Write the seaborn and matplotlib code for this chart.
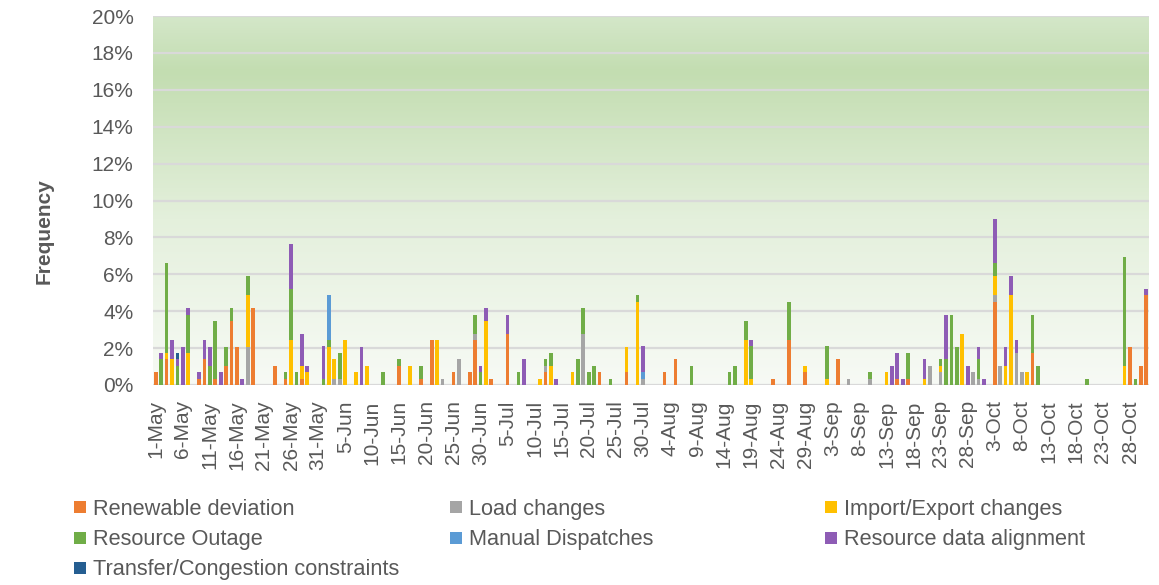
import matplotlib
matplotlib.use("Agg")
import matplotlib.pyplot as plt
import seaborn as sns
import pandas as pd
import numpy as np
from matplotlib.colors import LinearSegmentedColormap
from matplotlib.ticker import PercentFormatter
from matplotlib.lines import Line2D

# day offsets counted from 1-May (0 = 1-May ... 183 = 31-Oct), values in percent
renewable_days = [0, 2, 8, 9, 11, 13, 14, 15, 18, 22, 24, 27, 45, 49, 51, 55, 58, 59, 62, 65,
                  72, 82, 87, 94, 96, 114, 117, 120, 126, 137, 139, 155, 162, 180, 182, 183]
renewable_vals = [0.69, 1.39, 0.35, 1.39, 0.35, 1.04, 3.47, 2.08, 4.17, 1.04, 0.35, 0.35, 1.04, 0.35,
                  2.43, 0.69, 0.69, 2.43, 0.35, 2.78, 0.69, 0.69, 0.69, 0.69, 1.39, 0.35, 2.43, 0.69,
                  1.39, 0.35, 0.35, 4.51, 1.74, 2.08, 1.04, 4.86]

load_days = [17, 33, 34, 53, 56, 59, 72, 79, 90, 128, 132, 143, 145, 151, 152, 155, 156, 159, 160]
load_vals = [2.08, 0.35, 0.35, 0.35, 1.39, 0.35, 0.35, 2.78, 0.35, 0.35, 0.35, 1.04, 0.69, 0.69,
             0.35, 0.35, 1.04, 1.74, 0.69]

import_days = [2, 3, 6, 17, 25, 27, 28, 32, 33, 35, 37, 39, 47, 52, 61, 71, 73, 77, 87, 89, 109,
               110, 120, 124, 135, 142, 145, 149, 155, 157, 158, 161, 179]
import_vals = [0.35, 1.39, 1.74, 2.78, 2.43, 0.69, 0.69, 2.08, 1.04, 2.43, 0.69, 1.04, 1.04, 2.43,
               3.47, 0.35, 1.04, 0.69, 1.39, 4.51, 2.43, 0.35, 0.35, 0.35, 0.69, 0.35, 0.35, 2.78,
               1.04, 1.04, 4.86, 0.69, 1.04]

outage_days = [1, 2, 4, 6, 10, 11, 13, 14, 17, 24, 25, 26, 31, 32, 34, 42, 45, 49, 59, 60, 67, 72,
               73, 78, 79, 80, 81, 84, 89, 99, 106, 107, 109, 110, 117, 124, 132, 139, 145, 146,
               147, 148, 152, 155, 162, 163, 172, 179, 181]
outage_vals = [1.39, 4.86, 1.04, 2.08, 1.04, 3.13, 1.04, 0.69, 1.04, 0.35, 2.78, 0.69, 0.35, 0.35,
               1.39, 0.69, 0.35, 0.69, 1.04, 0.69, 0.69, 0.35, 0.69, 1.39, 1.39, 0.69, 1.04, 0.35,
               0.35, 1.04, 0.69, 1.04, 1.04, 1.74, 2.08, 1.74, 0.35, 1.39, 0.35, 1.39, 3.82, 2.08,
               1.04, 0.69, 2.08, 1.04, 0.35, 5.90, 0.35]

manual_days = [32, 90]
manual_vals = [2.43, 0.35]

alignment_days = [1, 3, 4, 5, 6, 8, 9, 10, 12, 16, 25, 27, 28, 31, 38, 60, 61, 65, 68, 74, 90, 110,
                  136, 137, 138, 142, 146, 150, 152, 153, 155, 157, 158, 159, 183]
alignment_vals = [0.35, 1.04, 0.35, 2.08, 0.35, 0.35, 1.04, 1.04, 0.69, 0.35, 2.43, 1.74, 0.35,
                  1.74, 2.08, 0.35, 0.69, 1.04, 1.39, 0.35, 1.39, 0.35, 1.04, 1.39, 0.35, 1.04,
                  2.43, 1.04, 0.69, 0.35, 2.43, 1.04, 1.04, 0.69, 0.35]

transfer_days = [4]
transfer_vals = [0.35]

categories = ["Renewable deviation", "Load changes", "Import/Export changes", "Resource Outage",
              "Manual Dispatches", "Resource data alignment", "Transfer/Congestion constraints"]
colors = ["#ED7D31", "#A5A5A5", "#FFC000", "#70AD47", "#5B9BD5", "#8E5CB5", "#255E91"]

dates = pd.date_range("2021-05-01", "2021-10-31")
tick_days = list(range(0, len(dates), 5))
tick_labels = [f"{dates[d].day}-{dates[d].strftime('%b')}" for d in tick_days]

# long-form table for seaborn
series = [(renewable_days, renewable_vals), (load_days, load_vals), (import_days, import_vals),
          (outage_days, outage_vals), (manual_days, manual_vals),
          (alignment_days, alignment_vals), (transfer_days, transfer_vals)]
frames = []
for name, (d, v) in zip(categories, series):
    frames.append(pd.DataFrame({"day": d, "value": v, "cause": name}))
df = pd.concat(frames, ignore_index=True)

sns.set_style("white")
plt.rcParams["font.family"] = ["Liberation Sans", "DejaVu Sans"]
text_color = "#595959"

fig, ax = plt.subplots(figsize=(11.59, 5.85), dpi=100)
fig.subplots_adjust(left=153 / 1159, right=1149 / 1159, top=1 - 16 / 585, bottom=1 - 385 / 585)

# stacked bars, first hue level ends up on top so pass the order reversed
sns.histplot(data=df, x="day", weights="value", hue="cause", hue_order=categories[::-1],
             palette=dict(zip(categories, colors)), multiple="stack", discrete=True,
             shrink=0.68, alpha=1, linewidth=0, legend=False, ax=ax)

# green gradient plot area
grad = LinearSegmentedColormap.from_list(
    "bg", [(0.0, "#F7FAF5"), (0.45, "#E4F0DC"), (0.85, "#C3DDB1"), (1.0, "#D4E7C9")])
ax.imshow(np.linspace(0, 1, 256).reshape(-1, 1), cmap=grad, origin="lower", aspect="auto",
          extent=(0, 1, 0, 1), transform=ax.transAxes, zorder=0)

ax.set_xlim(-0.5, len(dates) - 0.5)
ax.set_ylim(0, 20)
ax.set_yticks(np.arange(0, 21, 2))
ax.yaxis.set_major_formatter(PercentFormatter(100, decimals=0))
ax.set_xticks(tick_days)
ax.set_xticklabels(tick_labels, rotation=90)
ax.tick_params(axis="both", length=0, labelsize=15, colors=text_color)
ax.tick_params(axis="y", pad=14)
ax.tick_params(axis="x", pad=11)
ax.set_axisbelow(True)
ax.yaxis.grid(True, color="#D9D9D9", linewidth=1.6)
ax.xaxis.grid(False)
for s in ax.spines.values():
    s.set_visible(False)

ax.set_xlabel("")
ax.set_ylabel("Frequency", fontsize=15, fontweight="bold", color=text_color)
ax.yaxis.set_label_coords(-0.1, 0.417)

# legend: three columns placed like the original
handles = [Line2D([], [], marker="s", linestyle="none", markersize=8.6, color=c,
                  markeredgewidth=0) for c in colors]
columns = [[0, 3, 6], [1, 4], [2, 5]]
col_x = [71.7, 447.7, 822.7]
for idx, x in zip(columns, col_x):
    fig.legend([handles[i] for i in idx], [categories[i] for i in idx], loc="upper left",
               bbox_to_anchor=(x / 1159, 1 - 499 / 585), frameon=False, fontsize=15.7,
               handlelength=0.8, handletextpad=0.18, labelspacing=0.42, borderpad=0,
               borderaxespad=0, labelcolor=text_color)

fig.savefig("out.png", dpi=100)
